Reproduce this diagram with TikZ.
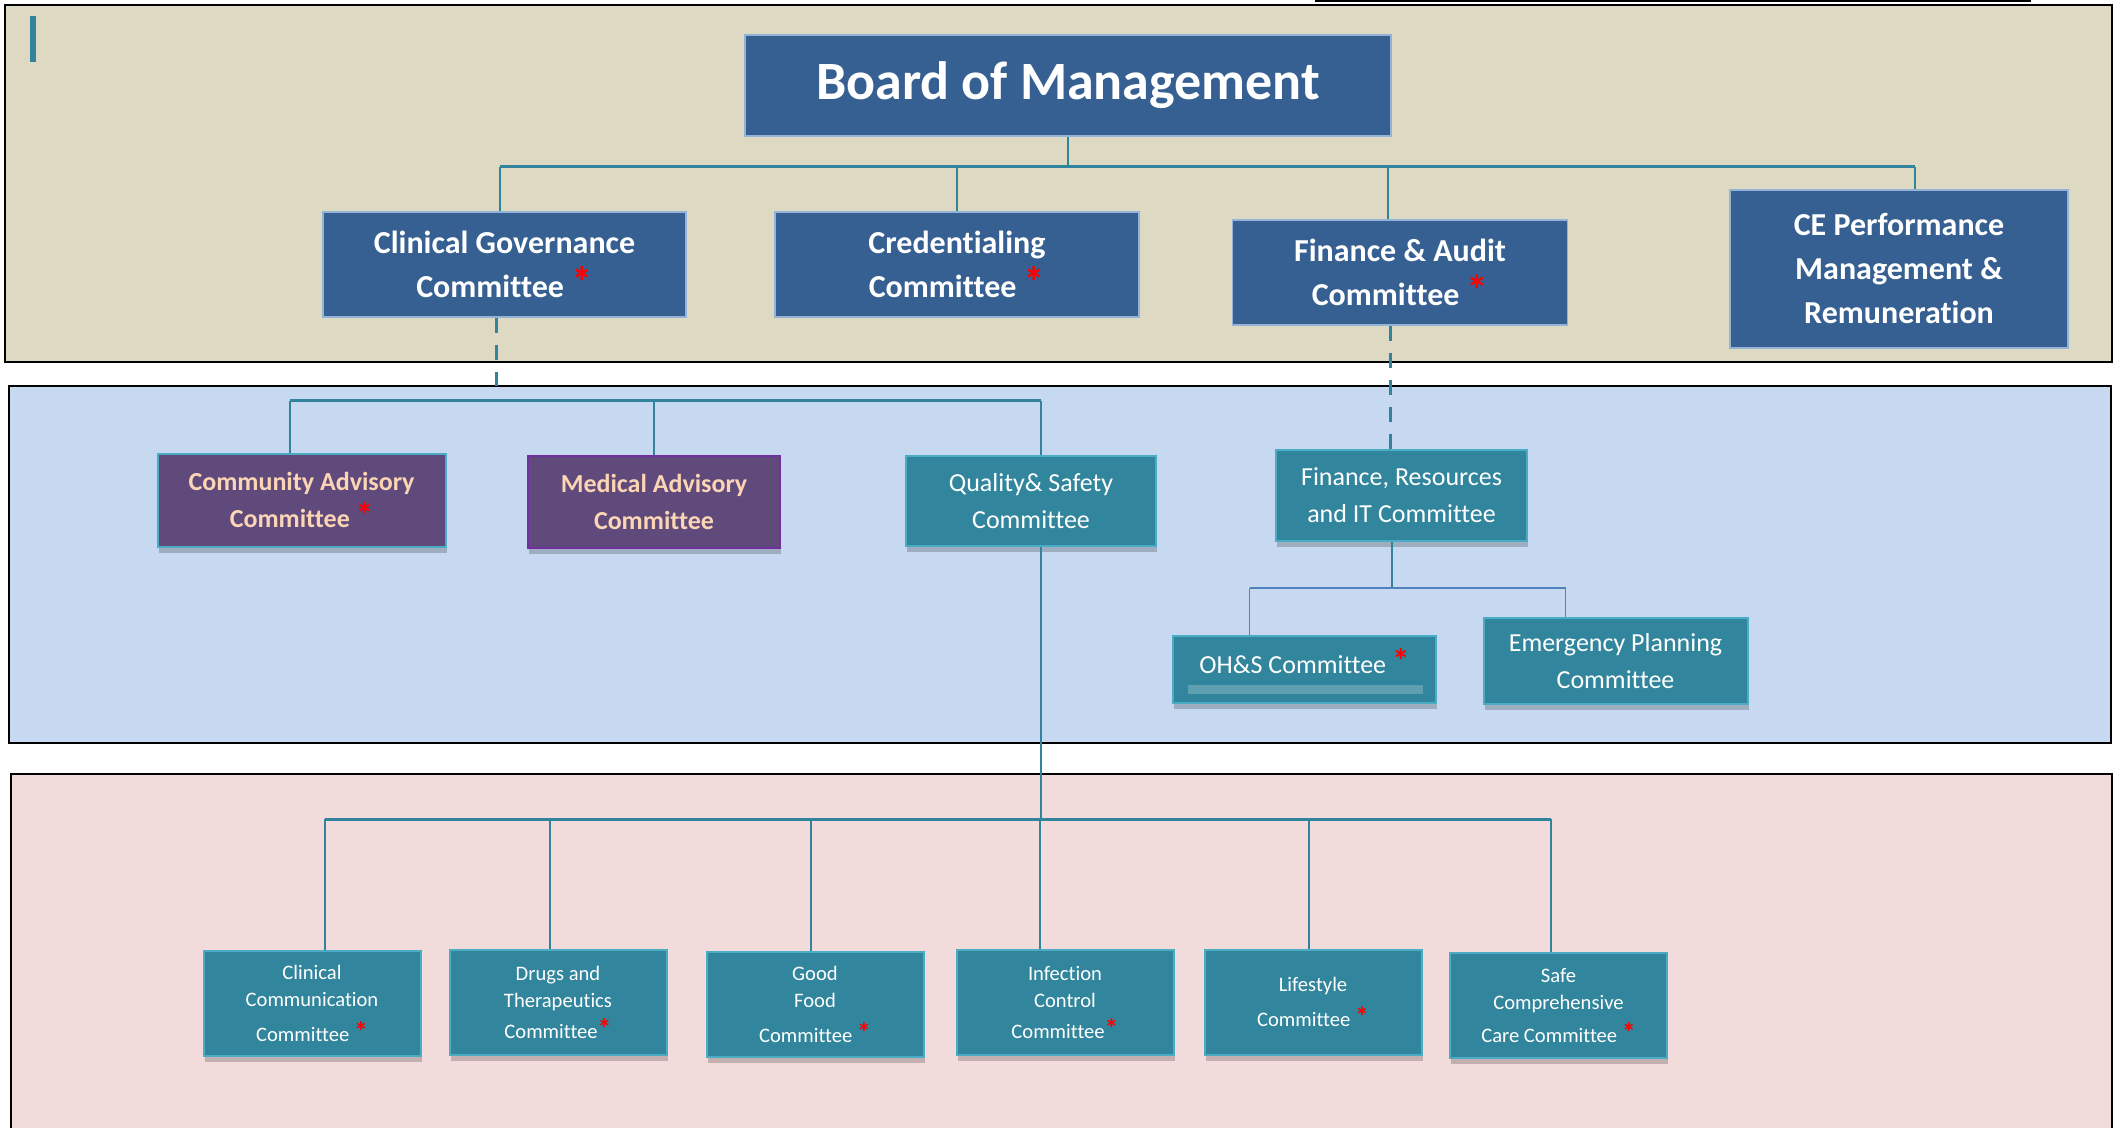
\documentclass[tikz,border=0pt]{standalone}
\usepackage{fontspec}
\setmainfont{Carlito}[Ligatures=NoCommon]
\usepackage{tikz}
\usetikzlibrary{shadows}
\definecolor{bandtop}{HTML}{DDD9C3}
\definecolor{bandmid}{HTML}{C6D9F1}
\definecolor{bandlow}{HTML}{F2DCDB}
\definecolor{boardblue}{HTML}{376092}
\definecolor{boardedge}{HTML}{95B3D7}
\definecolor{comteal}{HTML}{31859C}
\definecolor{comedge}{HTML}{4BACC6}
\definecolor{advpurple}{HTML}{604A7B}
\definecolor{advedge}{HTML}{7030A0}
\definecolor{peach}{HTML}{FCD5B5}
\definecolor{linkteal}{HTML}{31849B}
\definecolor{linkblue}{HTML}{4F81BD}
\definecolor{ohsbar}{HTML}{5E9FB0}
\newcommand{\redstar}{{\bfseries\textcolor{red}{\scalebox{1.35}{*}}}}

\begin{document}
\begin{tikzpicture}[x=0.5pt,y=-0.5pt,
  topbox/.style={fill=boardblue,draw=boardedge,line width=0.6pt,text=white,
    font=\fontsize{16}{22}\selectfont\bfseries,align=center,inner sep=0pt,minimum height=52.5pt},
  advbox/.style={fill=advpurple,draw=comedge,line width=1pt,text=peach,
    font=\fontsize{13}{18.5}\selectfont\bfseries,align=center,inner sep=0pt,
    drop shadow={shadow xshift=0.5pt,shadow yshift=-3pt,opacity=0.2,fill=black}},
  combox/.style={fill=comteal,draw=comedge,line width=1pt,text=white,
    font=\fontsize{13}{18.5}\selectfont,align=center,inner sep=0pt,
    drop shadow={shadow xshift=0.5pt,shadow yshift=-3pt,opacity=0.2,fill=black}},
  subbox/.style={combox,font=\fontsize{10.3}{13.5}\selectfont,minimum width=108.5pt,minimum height=52.5pt},
  band/.style={draw=black,line width=1pt},
  link/.style={draw=linkteal,line width=1pt},
  buslink/.style={draw=linkteal,line width=1.5pt},
  thinlink/.style={draw=linkblue,line width=0.7pt},
  dashlink/.style={draw=linkteal,line width=1.5pt,dash pattern=on 7.5pt off 6pt}]
  \clip (0,0) rectangle (2114,1128);

  % bands
  \filldraw[band,fill=bandtop] (5,5) rectangle (2112,362);
  \filldraw[band,fill=bandmid] (9,386) rectangle (2111,743);
  \filldraw[band,fill=bandlow] (11,774) rectangle (2112,1140);
  \draw[line width=1pt] (1315,1) -- (2031,1);
  \fill[linkteal] (30,16) rectangle (36,62);
  \coordinate (topbus) at (0,167);
  \coordinate (midtop) at (0,386);
  \coordinate (midbus) at (0,401);
  \coordinate (frbus) at (0,588);
  \coordinate (lowbus) at (0,819);

  % board and its committees
  \path
  (1068,85.5) node[topbox,minimum width=323pt,minimum height=50.5pt,
    font=\fontsize{27}{32}\selectfont\bfseries] (Board) {Board of Management}
  (504.5,264.5) node[topbox,minimum width=181.5pt] (CGC) {Clinical Governance\\Committee \redstar}
  (957,264.5) node[topbox,minimum width=182pt] (Cred) {Credentialing\\Committee \redstar}
  (1400,272.5) node[topbox,minimum width=167.5pt] (FAC) {Finance \& Audit\\Committee \redstar}
  (1899,269) node[topbox,minimum width=169pt,minimum height=79pt] (CEP) {CE Performance\\Management \&\\Remuneration}
  ;

  % middle band
  \path
  (301.5,500) node[advbox,minimum width=144pt,minimum height=46.5pt] (CAC) {Community Advisory\\Committee \redstar}
  (654,502) node[advbox,draw=advedge,minimum width=125.75pt,minimum height=46pt] (MAC) {Medical Advisory\\Committee}
  (1031,500.7) node[combox,minimum width=125pt,minimum height=45pt] (QSC) {Quality\& Safety\\Committee}
  (1401.5,495.5) node[combox,minimum width=125.5pt,minimum height=45.5pt] (FRIT) {Finance, Resources\\and IT Committee}
  (1304.5,669) node[combox,minimum width=131.5pt,minimum height=33.5pt,text depth=8pt] (OHS) {OH\&S Committee \redstar}
  (1615.5,661) node[combox,minimum width=132pt,minimum height=43pt] (EPC) {Emergency Planning\\Committee}
  ;
  \fill[ohsbar] ([shift={(16,-10)}]OHS.south west) rectangle ([shift={(-14,-19)}]OHS.south east);

  % lower band
  \path
  (312,1003.3) node[subbox] (CCC) {Clinical\\Communication\\[4pt]Committee \redstar}
  (558,1002) node[subbox] (DTC) {Drugs and\\Therapeutics\\[2pt]Committee\redstar}
  (815,1004.5) node[subbox] (GFC) {Good\\Food\\[4pt]Committee \redstar}
  (1065,1002.5) node[subbox] (ICC) {Infection\\Control\\[2pt]Committee\redstar}
  (1313,1002) node[subbox] (LSC) {Lifestyle\\[4pt]Committee \redstar}
  (1558.5,1005.5) node[subbox] (SCC) {Safe\\Comprehensive\\[3pt]Care Committee \redstar}
  ;

  % connectors
  \draw[link] (Board) -- (Board.south |- topbus);
  \draw[buslink] ([xshift=-2.5pt]CGC.north |- topbus) -- ([xshift=8pt]CEP.north |- topbus);
  \draw[link] ([xshift=-2.5pt]CGC.north |- topbus) -- ([xshift=-2.5pt]CGC.north);
  \draw[link] (Cred.north |- topbus) -- (Cred.north);
  \draw[link] ([xshift=-6pt]FAC.north |- topbus) -- ([xshift=-6pt]FAC.north);
  \draw[link] ([xshift=8pt]CEP.north |- topbus) -- ([xshift=8pt]CEP.north);

  \draw[dashlink] ([xshift=-4pt]CGC.south) -- ([xshift=-4pt]CGC.south |- midtop);
  \draw[dashlink] ([xshift=-5pt]FAC.south) -- ([xshift=-5pt]FAC.south |- FRIT.north);

  \draw[buslink] ([xshift=-6pt]CAC.north |- midbus) -- ([xshift=5pt]QSC.north |- midbus);
  \draw[link] ([xshift=-6pt]CAC.north |- midbus) -- ([xshift=-6pt]CAC.north);
  \draw[link] (MAC.north |- midbus) -- (MAC.north);
  \draw[link] ([xshift=5pt]QSC.north |- midbus) -- ([xshift=5pt]QSC.north);

  \draw[link] ([xshift=-5pt]FRIT.south) -- ([xshift=-5pt]FRIT.south |- frbus);
  \draw[thinlink] ([xshift=-27.5pt]OHS.north |- frbus) -- ([xshift=-25pt]EPC.north |- frbus);
  \draw[thinlink] ([xshift=-27.5pt]OHS.north |- frbus) -- ([xshift=-27.5pt]OHS.north);
  \draw[thinlink] ([xshift=-25pt]EPC.north |- frbus) -- ([xshift=-25pt]EPC.north);

  \draw[link] ([xshift=5pt]QSC.south) -- ([xshift=5pt]QSC.south |- lowbus);
  \draw[buslink] ([xshift=6.5pt]CCC.north |- lowbus) -- ([xshift=-4pt]SCC.north |- lowbus);
  \draw[link] ([xshift=6.5pt]CCC.north |- lowbus) -- ([xshift=6.5pt]CCC.north);
  \draw[link] ([xshift=-4pt]DTC.north |- lowbus) -- ([xshift=-4pt]DTC.north);
  \draw[link] ([xshift=-2pt]GFC.north |- lowbus) -- ([xshift=-2pt]GFC.north);
  \draw[link] ([xshift=-12.5pt]ICC.north |- lowbus) -- ([xshift=-12.5pt]ICC.north);
  \draw[link] ([xshift=-2pt]LSC.north |- lowbus) -- ([xshift=-2pt]LSC.north);
  \draw[link] ([xshift=-4pt]SCC.north |- lowbus) -- ([xshift=-4pt]SCC.north);
\end{tikzpicture}
\end{document}
